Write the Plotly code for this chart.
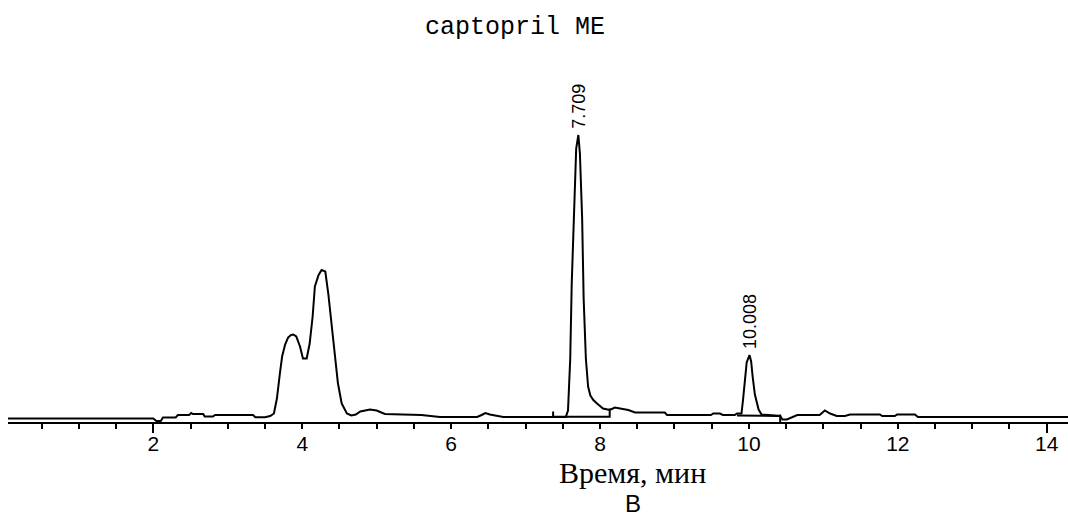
import plotly.graph_objects as go

# ---- data ----
time_min = [0.048, 2.00, 2.04, 2.10, 2.13, 2.30, 2.33, 2.48, 2.51, 2.53, 2.67, 2.69, 2.80, 2.83,
            3.34, 3.37, 3.50, 3.57, 3.62, 3.66, 3.70, 3.73, 3.77, 3.81, 3.85, 3.88, 3.92, 3.97,
            4.01, 4.06, 4.10, 4.14, 4.17, 4.22, 4.26, 4.31, 4.35, 4.40, 4.44, 4.48, 4.53, 4.60,
            4.66, 4.72, 4.78, 4.91, 5.00, 5.04, 5.11, 5.35, 5.60, 5.85, 6.35, 6.41, 6.46, 6.52,
            6.62, 6.70, 7.37, 7.54, 7.57, 7.60, 7.62, 7.65, 7.68, 7.709, 7.73, 7.76, 7.78, 7.81,
            7.84, 7.87, 7.91, 7.96, 8.00, 8.04, 8.13, 8.20, 8.27, 8.38, 8.47, 8.87, 8.90, 9.49,
            9.52, 9.61, 9.65, 9.81, 9.84, 9.90, 9.92, 9.95, 9.97, 10.008, 10.03, 10.05, 10.08,
            10.13, 10.17, 10.42, 10.45, 10.51, 10.59, 10.65, 10.95, 11.02, 11.09, 11.18, 11.29,
            11.36, 11.76, 11.79, 11.96, 11.99, 12.23, 12.27, 14.29]
signal = [0, 0, -2.5, -2.5, 1, 1, 3.5, 3.5, 5.5, 4.5, 4.5, 2, 2, 3.5,
          3.5, 1.2, 1.2, 2.5, 5, 20, 45, 62, 74, 81, 83.5, 84, 82, 72,
          60, 60, 75, 102, 132, 143.5, 148.5, 147, 125, 92, 62, 35, 15, 5,
          3, 4, 7, 9, 8, 7, 4.5, 4, 3.5, 1.5, 1.5, 3.5, 5.5, 4,
          2.5, 1.5, 1.5, 1.5, 8, 60, 135, 215, 270, 283.5, 265, 200, 120, 60,
          32, 23, 18.5, 15, 12.5, 10, 8.5, 11, 10, 8.5, 6, 6, 3.5, 3.5,
          5, 5, 3.5, 3.5, 5, 5, 18, 38, 56, 63.5, 57, 42, 24,
          9, 4, 2.5, -1, -1, 1.5, 3.5, 3.5, 8, 5, 2.5, 2.5,
          4, 4, 2.5, 2.5, 4, 4, 1.5, 1.5]

# integration marks (baselines / drop lines), None separates segments
integ_time = [7.37, 7.37, None, 7.37, 8.13, 8.13, None, 9.84, 10.42, None, 10.42, 10.42]
integ_level = [1.5, 7, None, 1.8, 1.8, 10, None, 3, 2.5, None, 4, -3.5]

peak_times = [7.709, 10.008]
peak_heights = [283.5, 63.5]
peak_labels = ["7.709", "10.008"]

minor_ticks = [v / 2 for v in range(1, 29)]
tick_text = [str(int(v)) if v % 2 == 0 else "" for v in minor_ticks]
long_ticks = [2, 14]

x_range = [0.048, 14.286]
y_range = [-3.5, 358.5]

fig = go.Figure()
fig.add_trace(go.Scatter(x=time_min, y=signal, mode="lines",
                         line=dict(color="black", width=2), hoverinfo="skip", showlegend=False))
fig.add_trace(go.Scatter(x=integ_time, y=integ_level, mode="lines",
                         line=dict(color="black", width=2), hoverinfo="skip", showlegend=False))
# invisible trace on second x axis so it renders
fig.add_trace(go.Scatter(x=[long_ticks[0]], y=[0], xaxis="x2", mode="markers",
                         marker=dict(opacity=0), hoverinfo="skip", showlegend=False))

for t, h, lab in zip(peak_times, peak_heights, peak_labels):
    fig.add_annotation(x=t, y=h, text=lab, textangle=-90, showarrow=False,
                       xanchor="center", yanchor="bottom", yshift=4,
                       font=dict(family="Liberation Sans, Arial", size=18, color="black"))

fig.add_annotation(xref="paper", yref="paper", x=(515 - 8) / 1060, y=(422 - 27) / 362,
                   text="captopril ME", showarrow=False, xanchor="center", yanchor="middle",
                   font=dict(family="Liberation Mono, Courier New", size=25, color="black"))
fig.add_annotation(xref="paper", yref="paper", x=(632 - 8) / 1060, y=(422 - 472) / 362,
                   text="Время, мин", showarrow=False, xanchor="center", yanchor="middle",
                   font=dict(family="Liberation Serif, Times New Roman", size=30, color="black"))
fig.add_annotation(xref="paper", yref="paper", x=(633 - 8) / 1060, y=(422 - 503) / 362,
                   text="В", showarrow=False, xanchor="center", yanchor="middle",
                   font=dict(family="Liberation Sans, Arial", size=24, color="black"))

fig.update_layout(
    width=1068, height=519,
    margin=dict(l=8, r=0, t=60, b=97),
    paper_bgcolor="white", plot_bgcolor="white",
    xaxis=dict(range=x_range, showgrid=False, zeroline=False, showline=True,
               linecolor="black", linewidth=2, ticks="outside", ticklen=5, tickwidth=2,
               tickcolor="black", tickvals=minor_ticks, ticktext=tick_text,
               ticklabelstandoff=-3,
               tickfont=dict(family="Liberation Sans, Arial", size=21, color="black")),
    xaxis2=dict(range=x_range, overlaying="x", side="bottom", anchor="y",
                showgrid=False, zeroline=False, showline=False, ticks="outside",
                ticklen=10, tickwidth=2, tickcolor="black", tickvals=long_ticks,
                showticklabels=False),
    yaxis=dict(range=y_range, visible=False, showgrid=False, zeroline=False),
)

fig.write_html("out.html")
